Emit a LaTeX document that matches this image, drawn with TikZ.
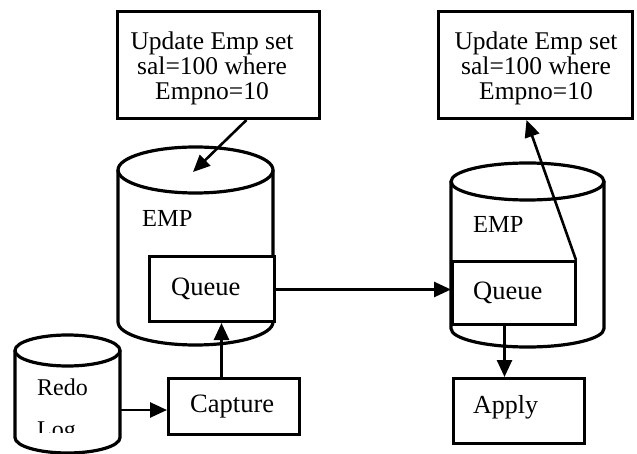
\documentclass[tikz,border=0pt]{standalone}
\usepackage{fontspec}
\setmainfont{Liberation Serif}
\usetikzlibrary{arrows.meta}
\begin{document}
\begin{tikzpicture}[x=1pt,y=1pt,
  outline/.style={line width=3.2pt},
  box/.style={draw, rectangle, line width=3pt, inner sep=0pt, fill=white, anchor=north west},
  flow/.style={line width=2.6pt, -{Triangle[length=17pt,width=15pt]}},
  lbl/.style={inner sep=0pt, anchor=base west, font=\fontsize{26.5}{26.5}\selectfont},
  dbname/.style={inner sep=0pt, anchor=base west, font=\fontsize{24.5}{24.5}\selectfont},
  sql/.style={inner sep=0pt, anchor=base, font=\fontsize{25.5}{25.5}\selectfont}
]
\useasboundingbox (0,0) rectangle (637,-454);

% ---- EMP table (source side)
\draw[outline] (195.5,-170) ellipse (77.5 and 23);
\draw[outline] (118,-170) -- (118,-322) arc (180:360:77.5 and 23) -- (273,-170);
\coordinate (cylLtop) at (193,-172);
\node[dbname] at (142,-227) {EMP};

% ---- EMP table (target side)
\draw[outline] (527.5,-181.5) ellipse (76.5 and 18.5);
\draw[outline] (451,-181.5) -- (451,-328.5) arc (180:360:76.5 and 18.5) -- (604,-181.5);
\node[dbname] at (473,-233) {EMP};

% ---- redo log
\draw[outline] (67.5,-350.5) ellipse (52.5 and 15.5);
\draw[outline] (15,-350.5) -- (15,-437.5) arc (180:360:52.5 and 15.5) -- (120,-350.5);
\coordinate (redoR) at (120,-410);
\begin{scope}
  \clip (20,-370) rectangle (117,-432);
  \node[inner sep=0pt, anchor=base west, font=\fontsize{24}{24}\selectfont] at (37,-395) {Redo};
  \node[inner sep=0pt, anchor=base west, font=\fontsize{24}{24}\selectfont] at (37,-437) {Log};
\end{scope}

% ---- SQL statements
\node[box, minimum width=202, minimum height=107] (updL) at (116,-10) {};
\node[sql] at (212,-50) {Update Emp set};
\node[sql] at (212,-75) {sal=100 where};
\node[sql] at (212,-100) {Empno=10};

\node[box, minimum width=194, minimum height=107] (updR) at (437,-10) {};
\node[sql] at (536,-50) {Update Emp set};
\node[sql] at (536,-75) {sal=100 where};
\node[sql] at (536,-100) {Empno=10};

% ---- queues and processes
\node[box, minimum width=125, minimum height=65] (queL) at (148,-255) {};
\node[lbl] at (171,-295) {Queue};

\node[box, minimum width=123, minimum height=63] (queR) at (451,-260) {};
\node[lbl] at (473,-300) {Queue};

\node[box, minimum width=131, minimum height=56] (cap) at (167,-377) {};
\node[lbl] at (190,-412) {Capture};

\node[box, minimum width=131, minimum height=65] (apply) at (452,-377) {};
\node[lbl, font=\fontsize{26}{26}\selectfont] at (473,-413) {Apply};

% ---- connectors
\coordinate (updLout) at ([xshift=28pt]updL.south);
\draw[flow] (updLout) -- (cylLtop);

\coordinate (queRcorner) at ([xshift=-1pt]queR.north east);
\coordinate (updRin) at ([xshift=-9pt]updR.south);
\draw[flow] (queRcorner) -- (updRin);

\coordinate (queLout) at ([yshift=-0.5pt]queL.east);
\draw[flow] (queLout) -- (queLout -| queR.west);

\coordinate (queRout) at ([xshift=-9.5pt]queR.south);
\draw[flow] (queRout) -- (queRout |- apply.north);

\coordinate (capOut) at ([xshift=-12.5pt]cap.north);
\draw[flow] (capOut) -- (capOut |- queL.south);

\draw[flow] (redoR) -- (redoR -| cap.west);
\end{tikzpicture}
\end{document}
